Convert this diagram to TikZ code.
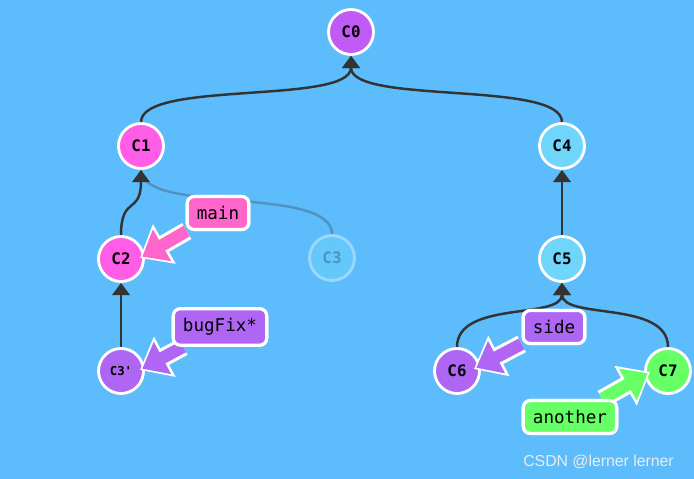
\documentclass[tikz,border=0pt]{standalone}
\usepackage{fontspec}
\setmonofont{DejaVu Sans Mono}
\setmainfont{Liberation Sans}
\usetikzlibrary{arrows.meta}
\definecolor{bg}{HTML}{5CBCFC}
\definecolor{cpur}{HTML}{C05CF5}
\definecolor{cpink}{HTML}{FF5CE8}
\definecolor{clpur}{HTML}{B066F5}
\definecolor{ccyan}{HTML}{6FD5FB}
\definecolor{cgreen}{HTML}{66FF66}
\definecolor{lpink}{HTML}{FF66CC}
\definecolor{edge}{HTML}{333333}
\begin{document}
\begin{tikzpicture}[x=0.02cm,y=-0.02cm,
  commit/.style={circle,draw=white,line width=1.6pt,minimum size=0.9cm,inner sep=0pt,font=\ttfamily\bfseries\small},
  lab/.style={draw=white,line width=1.8pt,rounded corners=4pt,font=\ttfamily,inner sep=5.5pt},
  conn/.style={draw=edge,line width=1.4pt,-{Triangle[length=7pt,width=10pt]}},
  labarrow/.style={line width=7pt,-{Triangle[length=13pt,width=20pt]}}]
\fill[bg] (0,0) rectangle (694,479);
\node[commit,fill=cpur] (c0) at (351,32) {C0};
\node[commit,fill=cpink] (c1) at (141,146) {C1};
\node[commit,fill=cpink] (c2) at (121,259) {C2};
\node[commit,fill=ccyan!50!bg,draw=white!40!bg,text=edge!30!bg] (c3) at (332,258) {C3};
\node[commit,fill=clpur,font=\ttfamily\bfseries\scriptsize] (c3p) at (121,371) {C3'};
\node[commit,fill=ccyan] (c4) at (562,146) {C4};
\node[commit,fill=ccyan] (c5) at (562,259) {C5};
\node[commit,fill=clpur] (c6) at (457,371) {C6};
\node[commit,fill=cgreen] (c7) at (668,371) {C7};
\draw[conn] (c1.north) .. controls (141,80) and (351,105) .. (c0.south);
\draw[conn] (c4.north) .. controls (562,80) and (351,105) .. (c0.south);
\draw[draw=edge!30!bg,line width=1.4pt] (c3.north) .. controls (332,185) and (141,215) .. (c1.south);
\draw[conn] (c2.north) .. controls (121,195) and (141,215) .. (c1.south);
\draw[conn] (c3p) -- (c2);
\draw[conn] (c5) -- (c4);
\draw[conn] (c6.north) .. controls (457,300) and (562,320) .. (c5.south);
\draw[conn] (c7.north) .. controls (668,300) and (562,320) .. (c5.south);
\node[lab,fill=lpink] (main) at (218,213) {main};
\node[lab,fill=clpur] (bug) at (220,327) {bugFix*};
\node[lab,fill=clpur] (side) at (554,327) {side};
\node[lab,fill=cgreen] (another) at (570,417) {another};
\coordinate (tmain) at (140,258);
\coordinate (tbug) at (140,370);
\coordinate (tside) at (474,369);
\coordinate (tanother) at (650,372);
\foreach \a/\t/\c in {main/tmain/lpink,bug/tbug/clpur,side/tside/clpur,another/tanother/cgreen}{
  \draw[labarrow,white,line width=10.5pt,-{Triangle[length=16pt,width=25pt]}] (\a) -- (\t);
  \draw[labarrow,\c,shorten >=1.5pt] (\a) -- (\t);
}
\node[lab,fill=lpink] at (218,213) {main};
\node[lab,fill=clpur] at (220,327) {bugFix*};
\node[lab,fill=clpur] at (554,327) {side};
\node[lab,fill=cgreen] at (570,417) {another};
\node[text=white!85!gray,font=\small,anchor=east] (wm) at (680,462) {CSDN @lerner lerner};
\end{tikzpicture}
\end{document}
